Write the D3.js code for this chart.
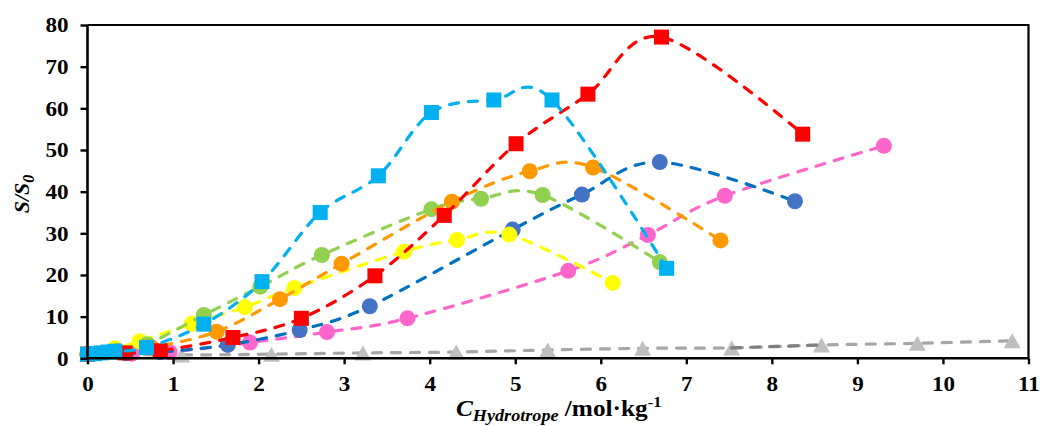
<!DOCTYPE html>
<html>
<head>
<meta charset="utf-8">
<script src="https://cdn.jsdelivr.net/npm/d3@7"></script>
<style>
  html, body { margin: 0; padding: 0; background: #fff; }
  svg { display: block; }
  text { font-family: "Liberation Serif", "Times New Roman", serif; font-weight: bold; fill: #000; }
</style>
</head>
<body>
<svg id="chart" width="1042" height="426"></svg>
<script>
// Solubility enhancement S/S0 versus hydrotrope concentration (mol/kg)
const xTicks = [0, 1, 2, 3, 4, 5, 6, 7, 8, 9, 10, 11];
const yTicks = [0, 10, 20, 30, 40, 50, 60, 70, 80];

const graySeries = [[0,1.0],[1.10,0.8],[2.15,1.0],[3.22,1.3],[4.31,1.5],[5.38,2.0],[6.49,2.4],[7.53,2.5],[8.58,3.2],[9.70,3.6],[10.81,4.2]];
const grayDarkSegment = [[7.53,2.5],[8.58,3.2]];
const pinkSeries = [[0,1],[0.52,1.1],[0.96,1.5],[1.90,3.8],[2.80,6.3],[3.74,9.6],[5.62,21.0],[6.55,29.6],[7.45,39.0],[9.31,51.0]];
const darkBlueSeries = [[0,1],[0.45,1.2],[0.85,1.5],[1.64,3.2],[2.48,6.8],[3.30,12.5],[4.97,30.9],[5.78,39.3],[6.69,47.1],[8.27,37.7]];
const yellowSeries = [[0,1],[0.32,2.4],[0.61,4.1],[1.22,8.3],[1.84,12.3],[2.42,16.9],[3.70,25.6],[4.32,28.4],[4.93,29.7],[6.14,18.1]];
const greenSeries = [[0,1],[0.35,1.8],[0.70,3.4],[1.36,10.4],[2.02,17.2],[2.74,24.8],[4.02,35.8],[4.60,38.3],[5.32,39.2],[6.69,23.1]];
const orangeSeries = [[0,1],[0.35,1.6],[0.75,2.6],[1.51,6.4],[2.25,14.2],[2.97,22.7],[4.26,37.6],[5.17,44.9],[5.91,45.8],[7.40,28.3]];
const redSeries = [[0,1],[0.44,1.3],[0.85,1.8],[1.70,5.0],[2.50,9.6],[3.36,19.8],[4.17,34.3],[5.01,51.5],[5.85,63.4],[6.71,77.1],[8.36,53.8]];
const lightBlueSeries = [[0,1],[0.08,1.1],[0.16,1.3],[0.24,1.5],[0.32,1.7],[0.69,2.6],[1.36,8.2],[2.04,18.4],[2.72,35.0],[3.40,43.8],[4.02,59.0],[4.75,62.0],[5.43,62.0],[6.77,21.6]];

const svg = d3.select("#chart");
const plotLeft = 87.5, plotRight = 1028.5, plotTop = 25, plotBottom = 358.3;
const stretch = 1.1;   // horizontal widening of label glyphs

const x = d3.scaleLinear().domain([0, 11]).range([plotLeft, plotRight]);
const y = d3.scaleLinear().domain([0, 80]).range([plotBottom, plotTop]);

// plot frame (top and right edges)
svg.append("path")
  .attr("d", `M${plotLeft},${plotTop}H${plotRight}V${plotBottom}`)
  .attr("fill", "none").attr("stroke", "#000").attr("stroke-width", 2.2);

const plot = svg.append("g");

const smooth = d3.line()
  .x(d => x(d[0])).y(d => y(d[1]))
  .curve(d3.curveCardinal.tension(0));
const straight = d3.line().x(d => x(d[0])).y(d => y(d[1]));

function triangle(cx, cy, w, h) {
  return `M${cx},${cy - h / 2}L${cx + w / 2},${cy + h / 2}L${cx - w / 2},${cy + h / 2}Z`;
}

const seriesList = [
  { data: graySeries, line: "#A6A6A6", fill: "#BFBFBF", shape: "triangle" },
  { data: grayDarkSegment, line: "#7F7F7F", fill: null, shape: null, straight: true },
  { data: pinkSeries, line: "#FF66CC", fill: "#FF66CC", shape: "circle" },
  { data: darkBlueSeries, line: "#0070C0", fill: "#4472C4", shape: "circle" },
  { data: yellowSeries, line: "#FFFF00", fill: "#FFFF00", shape: "circle" },
  { data: greenSeries, line: "#92D050", fill: "#92D050", shape: "circle" },
  { data: orangeSeries, line: "#FF9900", fill: "#FF9900", shape: "circle" },
  { data: redSeries, line: "#FF0000", fill: "#FF0000", shape: "square" },
  { data: lightBlueSeries, line: "#00B0F0", fill: "#00B0F0", shape: "square" }
];

seriesList.forEach(s => {
  const g = plot.append("g");
  const gen = s.straight ? straight : smooth;
  g.append("path")
    .attr("d", gen(s.data))
    .attr("fill", "none")
    .attr("stroke", s.line)
    .attr("stroke-width", 3.2)
    .attr("stroke-dasharray", "9,10")
    .attr("stroke-linecap", "round");
  if (!s.shape) return;
  const m = g.selectAll(".m").data(s.data).enter();
  if (s.shape === "circle") {
    m.append("circle").attr("cx", d => x(d[0])).attr("cy", d => y(d[1]))
      .attr("r", 8).attr("fill", s.fill);
  } else if (s.shape === "square") {
    m.append("rect").attr("x", d => x(d[0]) - 7.5).attr("y", d => y(d[1]) - 7.5)
      .attr("width", 15).attr("height", 15).attr("fill", s.fill);
  } else {
    m.append("path").attr("d", d => triangle(x(d[0]), y(d[1]), 17, 15))
      .attr("fill", s.fill);
  }
});

// axes
const xAxis = svg.append("g").attr("transform", `translate(0,${plotBottom})`)
  .call(d3.axisBottom(x).tickValues(xTicks).tickSize(6).tickSizeOuter(0).tickPadding(12));
const yAxis = svg.append("g").attr("transform", `translate(${plotLeft},0)`)
  .call(d3.axisLeft(y).tickValues(yTicks).tickSize(7).tickSizeOuter(0).tickPadding(12));

[xAxis, yAxis].forEach(a => {
  a.select(".domain").attr("stroke", "#000").attr("stroke-width", 2.6);
  a.selectAll(".tick line").attr("stroke", "#000").attr("stroke-width", 2.4);
  a.selectAll(".tick text")
    .style("font-family", '"Liberation Serif", "Times New Roman", serif')
    .style("font-weight", "bold").style("font-size", "21px").attr("fill", "#000");
});
xAxis.select(".domain").attr("d", `M${plotLeft},0H${plotRight}`);
yAxis.select(".domain").attr("d", `M0,${plotTop}V${plotBottom}`);
xAxis.selectAll(".tick text").attr("transform", `scale(${stretch},1)`);
yAxis.selectAll(".tick text").each(function () {
  const t = d3.select(this);
  const tx = +t.attr("x");
  t.attr("x", 0).attr("transform", `translate(${tx},0) scale(${stretch},1)`);
});

// x axis title
const xt = svg.append("text")
  .attr("transform", `translate(456,416) scale(${stretch},1)`)
  .style("font-size", "23px");
xt.append("tspan").text("C").style("font-style", "italic");
xt.append("tspan").text("Hydrotrope").style("font-style", "italic").style("font-size", "16.5px").attr("dy", 5);
xt.append("tspan").text(" /mol·kg").attr("dy", -5);
xt.append("tspan").text("-1").style("font-size", "15px").attr("dy", -9);

// y axis title
const yt = svg.append("text")
  .attr("transform", "translate(29,194) rotate(-90)")
  .attr("text-anchor", "middle").style("font-size", "22px").style("font-style", "italic");
yt.append("tspan").text("S/S");
yt.append("tspan").text("0").style("font-size", "16px").attr("dy", 5);
</script>
</body>
</html>
